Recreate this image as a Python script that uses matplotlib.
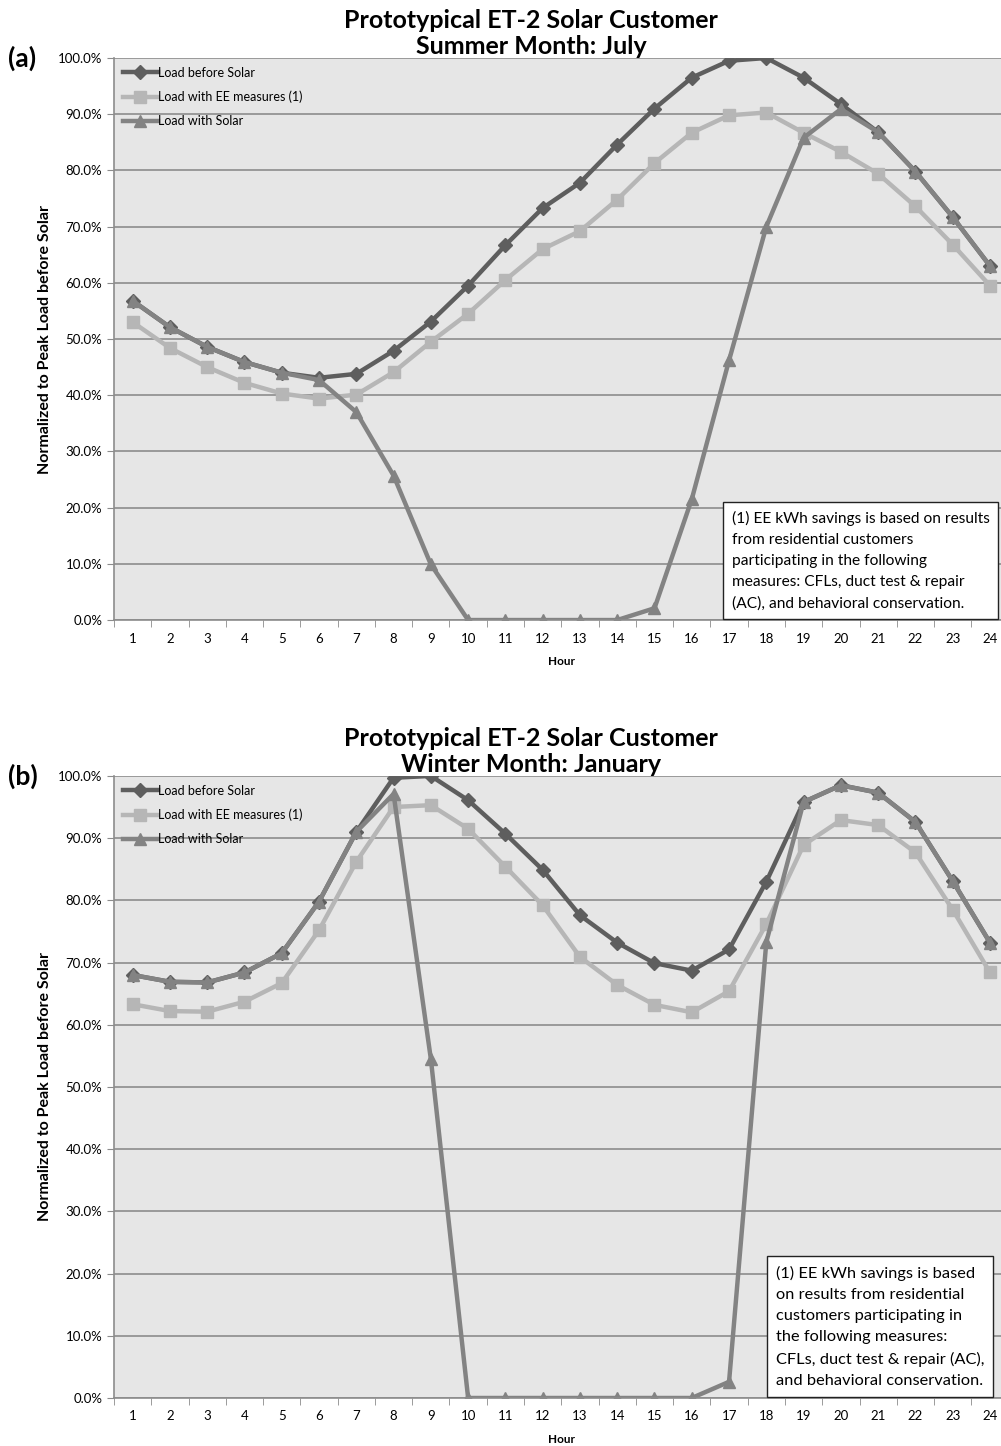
import matplotlib
matplotlib.use('Agg')
import matplotlib.pyplot as plt
from matplotlib.ticker import FuncFormatter, MultipleLocator

plt.rcParams['font.family'] = ['Lato', 'DejaVu Sans']

hours = list(range(1, 25))

# July (summer), % of peak load before solar
jul_before = [56.8, 52.1, 48.6, 45.9, 44.0, 43.1, 43.8, 47.9, 53.1, 59.5, 66.7, 73.3,
              77.8, 84.6, 91.0, 96.5, 99.5, 100.0, 96.5, 91.8, 86.8, 79.8, 71.7, 63.0]
jul_ee = [53.0, 48.4, 45.0, 42.2, 40.3, 39.4, 40.1, 44.1, 49.5, 54.5, 60.5, 66.0,
          69.2, 74.8, 81.3, 86.7, 89.8, 90.3, 86.7, 83.3, 79.4, 73.6, 66.8, 59.5]
jul_solar = [56.8, 52.1, 48.6, 45.9, 44.0, 42.7, 37.0, 25.7, 9.9, 0.0, 0.0, 0.0,
             0.0, 0.0, 2.1, 21.5, 46.2, 70.0, 85.8, 90.9, 86.8, 79.8, 71.7, 63.0]

# January (winter)
jan_before = [68.0, 66.9, 66.8, 68.4, 71.5, 79.8, 91.0, 99.7, 100.0, 96.1, 90.7, 84.9,
              77.6, 73.2, 69.9, 68.7, 72.1, 83.0, 95.8, 98.5, 97.3, 92.6, 83.1, 73.2]
jan_ee = [63.3, 62.2, 62.1, 63.7, 66.7, 75.2, 86.2, 95.0, 95.3, 91.5, 85.4, 79.2,
          70.9, 66.4, 63.2, 62.0, 65.4, 76.2, 88.9, 92.9, 92.1, 87.7, 78.5, 68.4]
jan_solar = [68.0, 66.9, 66.8, 68.4, 71.5, 79.8, 91.0, 97.1, 54.5, 0.0, 0.0, 0.0,
             0.0, 0.0, 0.0, 0.0, 2.6, 73.3, 95.8, 98.5, 97.3, 92.6, 83.1, 73.2]

c_before = '#5e5e5e'
c_ee = '#b6b6b6'
c_solar = '#838383'

fig = plt.figure(figsize=(10.01, 14.46), dpi=100)

panels = [
    (0.5712, 0.3887, jul_before, jul_ee, jul_solar, 'Summer Month: July', '(a)',
     "(1) EE kWh savings is based on results\nfrom residential customers\n"
     "participating in the following\nmeasures: CFLs, duct test & repair\n"
     "(AC), and behavioral conservation.", (0.7313, 0.5775), 11.2),
    (0.0332, 0.4302, jan_before, jan_ee, jan_solar, 'Winter Month: January', '(b)',
     "(1) EE kWh savings is based\non results from residential\n"
     "customers participating in\nthe following measures:\n"
     "CFLs, duct test & repair (AC),\nand behavioral conservation.", (0.7752, 0.0401), 11.8),
]

for bot, hgt, before, ee, solar, sub, tag, note, note_xy, note_fs in panels:
    ax = fig.add_axes([0.1139, bot, 0.8937, hgt])
    ax.set_facecolor('#e6e6e6')
    ax.plot(hours, before, color=c_before, lw=3.2, marker='D', ms=7, label='Load before Solar')
    ax.plot(hours, ee, color=c_ee, lw=3.2, marker='s', ms=8, label='Load with EE measures (1)')
    ax.plot(hours, solar, color=c_solar, lw=3.2, marker='^', ms=8.5, label='Load with Solar')

    ax.set_xlim(0.5, 24.5)
    ax.set_ylim(0, 100)
    ax.yaxis.set_major_locator(MultipleLocator(10))
    ax.yaxis.set_major_formatter(FuncFormatter(lambda v, p: '%.1f%%' % v))
    ax.set_xticks(hours)
    ax.set_xticks([h + 0.5 for h in range(0, 25)], minor=True)
    ax.tick_params(axis='x', which='major', length=0, labelsize=9.5, pad=9)
    ax.tick_params(axis='x', which='minor', length=5, color='#8c8c8c', direction='out')
    ax.tick_params(axis='y', length=5, color='#8c8c8c', labelsize=9.5)
    ax.grid(axis='y', color='#8c8c8c', lw=1.2)
    ax.set_axisbelow(True)
    for s in ['top', 'right']:
        ax.spines[s].set_visible(False)
    for s in ['left', 'bottom']:
        ax.spines[s].set_color('#8c8c8c')
        ax.spines[s].set_linewidth(1.2)

    ax.set_ylabel('Normalized to Peak Load before Solar', fontsize=11.5, fontweight='bold', labelpad=4)
    ax.set_xlabel('Hour', fontsize=8.5, fontweight='bold', labelpad=8)
    ax.set_title('Prototypical ET-2 Solar Customer\n' + sub, fontsize=18, fontweight='bold',
                 x=0.466, pad=1, linespacing=1.15)
    fig.text(0.008, bot + hgt, tag, fontsize=19, fontweight='bold', va='center', ha='left')

    ax.legend(loc='upper left', frameon=False, fontsize=9, handlelength=2.8,
              handletextpad=0.0, labelspacing=0.95, borderaxespad=0.3, bbox_to_anchor=(0.0, 1.0))

    fig.text(note_xy[0], note_xy[1], note, fontsize=note_fs, va='bottom', ha='left', linespacing=1.65,
             bbox=dict(facecolor='white', edgecolor='#222222', lw=1, boxstyle='square,pad=0.55'))

plt.savefig('out.png', dpi=100)
